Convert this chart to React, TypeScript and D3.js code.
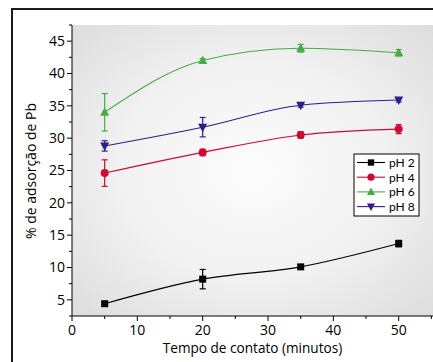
import React, { useEffect, useRef } from 'react';
import * as d3 from 'd3';

// Tempo de contato (minutos)
const times = [5, 20, 35, 50];

// % de adsorção de Pb, with standard deviation
const ph2 = [4.4, 8.2, 10.1, 13.7];
const ph2Err = [0.3, 1.5, 0.3, 0.5];
const ph4 = [24.6, 27.8, 30.5, 31.4];
const ph4Err = [2.05, 0.5, 0.5, 0.7];
const ph6 = [34.0, 42.0, 43.9, 43.2];
const ph6Err = [2.9, 0.3, 0.6, 0.5];
const ph8 = [28.8, 31.7, 35.1, 35.9];
const ph8Err = [0.8, 1.5, 0.3, 0.3];

const xTicks = [0, 10, 20, 30, 40, 50];
const yTicks = [5, 10, 15, 20, 25, 30, 35, 40, 45];

interface Series {
  name: string;
  values: number[];
  errors: number[];
  color: string;
  symbol: 'square' | 'circle' | 'up' | 'down';
}

const series: Series[] = [
  { name: 'pH 2', values: ph2, errors: ph2Err, color: '#000000', symbol: 'square' },
  { name: 'pH 4', values: ph4, errors: ph4Err, color: '#cc0a35', symbol: 'circle' },
  { name: 'pH 6', values: ph6, errors: ph6Err, color: '#47ac45', symbol: 'up' },
  { name: 'pH 8', values: ph8, errors: ph8Err, color: '#2f1c8a', symbol: 'down' },
];

const FONT = '"Open Sans", sans-serif';
const LEGEND_FONT = 'Lato, "Open Sans", sans-serif';

const App: React.FC = () => {
  const svgRef = useRef<SVGSVGElement>(null);

  useEffect(() => {
    if (!svgRef.current) return;
    const root = d3.select(svgRef.current);
    root.selectAll('*').remove();

    const W = 433;
    const H = 362;
    const plot = { left: 72, top: 25, right: 433, bottom: 316 };

    const x = d3.scaleLinear().domain([0, 50]).range([72, 398.7]);
    const y = d3.scaleLinear().domain([2.5, 47.5]).range([plot.bottom, plot.top]);

    // background gradient of the plot area
    const defs = root.append('defs');
    const grad = defs
      .append('radialGradient')
      .attr('id', 'bg')
      .attr('cx', '50%')
      .attr('cy', '50%')
      .attr('r', '75%');
    grad.append('stop').attr('offset', '0%').attr('stop-color', '#fcfcfc');
    grad.append('stop').attr('offset', '50%').attr('stop-color', '#f1f1f1');
    grad.append('stop').attr('offset', '100%').attr('stop-color', '#dadada');

    root.append('rect').attr('width', W).attr('height', H).attr('fill', '#ffffff');

    // outer frame
    root
      .append('rect')
      .attr('x', 12)
      .attr('y', 9)
      .attr('width', W)
      .attr('height', H)
      .attr('fill', 'none')
      .attr('stroke', '#1a1a1a')
      .attr('stroke-width', 2);

    root
      .append('rect')
      .attr('x', plot.left)
      .attr('y', plot.top)
      .attr('width', plot.right - plot.left)
      .attr('height', plot.bottom - plot.top)
      .attr('fill', 'url(#bg)');

    // Y axis
    const yAxis = root.append('g').attr('stroke', '#000').attr('stroke-width', 1);
    yAxis
      .append('line')
      .attr('x1', plot.left)
      .attr('x2', plot.left)
      .attr('y1', plot.top)
      .attr('y2', plot.bottom);
    d3.range(2.5, 47.6, 2.5).forEach(v => {
      const major = v % 5 === 0;
      yAxis
        .append('line')
        .attr('x1', plot.left)
        .attr('x2', plot.left - (major ? 5 : 3))
        .attr('y1', y(v))
        .attr('y2', y(v));
    });
    root
      .append('g')
      .selectAll('text')
      .data(yTicks)
      .enter()
      .append('text')
      .attr('x', plot.left - 7)
      .attr('y', d => y(d))
      .attr('dy', '0.35em')
      .attr('text-anchor', 'end')
      .attr('font-family', FONT)
      .attr('font-size', 14)
      .text(d => d);

    // X axis
    const xAxis = root.append('g').attr('stroke', '#000').attr('stroke-width', 1);
    xAxis
      .append('line')
      .attr('x1', plot.left)
      .attr('x2', plot.right)
      .attr('y1', plot.bottom)
      .attr('y2', plot.bottom);
    d3.range(0, 56, 5).forEach(v => {
      const major = v % 10 === 0;
      xAxis
        .append('line')
        .attr('x1', x(v))
        .attr('x2', x(v))
        .attr('y1', plot.bottom)
        .attr('y2', plot.bottom + (major ? 5 : 3));
    });
    root
      .append('g')
      .selectAll('text')
      .data(xTicks)
      .enter()
      .append('text')
      .attr('x', d => x(d))
      .attr('y', 334.5)
      .attr('text-anchor', 'middle')
      .attr('font-family', FONT)
      .attr('font-size', 14)
      .text(d => d);

    // axis titles
    root
      .append('text')
      .attr('x', (plot.left + plot.right) / 2)
      .attr('y', 352.5)
      .attr('text-anchor', 'middle')
      .attr('font-family', FONT)
      .attr('font-size', 13.6)
      .text('Tempo de contato (minutos)');

    root
      .append('text')
      .attr('transform', 'rotate(-90)')
      .attr('x', -171)
      .attr('y', 36)
      .attr('text-anchor', 'middle')
      .attr('font-family', FONT)
      .attr('font-size', 14)
      .text('% de adsorção de Pb');

    // symbol drawer
    const drawSymbol = (
      g: d3.Selection<SVGGElement, unknown, null, undefined>,
      symbol: Series['symbol'],
      cx: number,
      cy: number,
      color: string,
      k = 1
    ) => {
      if (symbol === 'square') {
        g.append('rect')
          .attr('x', cx - 3.5 * k)
          .attr('y', cy - 3.5 * k)
          .attr('width', 7 * k)
          .attr('height', 7 * k)
          .attr('fill', color);
      } else if (symbol === 'circle') {
        g.append('circle').attr('cx', cx).attr('cy', cy).attr('r', 4 * k).attr('fill', color);
      } else if (symbol === 'up') {
        g.append('path')
          .attr('d', `M${cx},${cy - 5 * k}L${cx + 4.5 * k},${cy + 3.5 * k}L${cx - 4.5 * k},${cy + 3.5 * k}Z`)
          .attr('fill', color);
      } else {
        g.append('path')
          .attr('d', `M${cx},${cy + 5 * k}L${cx + 4.5 * k},${cy - 3.5 * k}L${cx - 4.5 * k},${cy - 3.5 * k}Z`)
          .attr('fill', color);
      }
    };

    const line = d3
      .line<number>()
      .x((_, i) => x(times[i]))
      .y(d => y(d))
      .curve(d3.curveMonotoneX);

    series.forEach(s => {
      const g = root.append('g');
      g.append('path')
        .datum(s.values)
        .attr('fill', 'none')
        .attr('stroke', s.color)
        .attr('stroke-width', 1.1)
        .attr('d', line);

      s.values.forEach((v, i) => {
        const cx = x(times[i]);
        const e = s.errors[i];
        const y1 = y(v + e);
        const y2 = y(v - e);
        g.append('line')
          .attr('x1', cx)
          .attr('x2', cx)
          .attr('y1', y1)
          .attr('y2', y2)
          .attr('stroke', s.color)
          .attr('stroke-width', 1.2);
        [y1, y2].forEach(yy => {
          g.append('line')
            .attr('x1', cx - 3)
            .attr('x2', cx + 3)
            .attr('y1', yy)
            .attr('y2', yy)
            .attr('stroke', s.color)
            .attr('stroke-width', 1.2);
        });
        drawSymbol(g, s.symbol, cx, y(v), s.color);
      });
    });

    // legend
    const legend = root.append('g').attr('transform', 'translate(354,154)');
    legend
      .append('rect')
      .attr('width', 65)
      .attr('height', 62)
      .attr('fill', '#ffffff')
      .attr('stroke', '#000')
      .attr('stroke-width', 1);
    series.forEach((s, i) => {
      const ly = 8.5 + i * 14.7;
      const item = legend.append('g');
      item
        .append('line')
        .attr('x1', 3)
        .attr('x2', 31)
        .attr('y1', ly)
        .attr('y2', ly)
        .attr('stroke', s.color)
        .attr('stroke-width', 1.1);
      drawSymbol(item, s.symbol, 17, ly, s.color, 0.9);
      item
        .append('text')
        .attr('x', 35)
        .attr('y', ly)
        .attr('dy', '0.36em')
        .attr('font-family', LEGEND_FONT)
        .attr('font-size', 12)
        .text(s.name);
    });
  }, []);

  return (
    <svg
      ref={svgRef}
      width={433}
      height={362}
      style={{ position: 'absolute', left: 0, top: 0, display: 'block' }}
    />
  );
};

export default App;
